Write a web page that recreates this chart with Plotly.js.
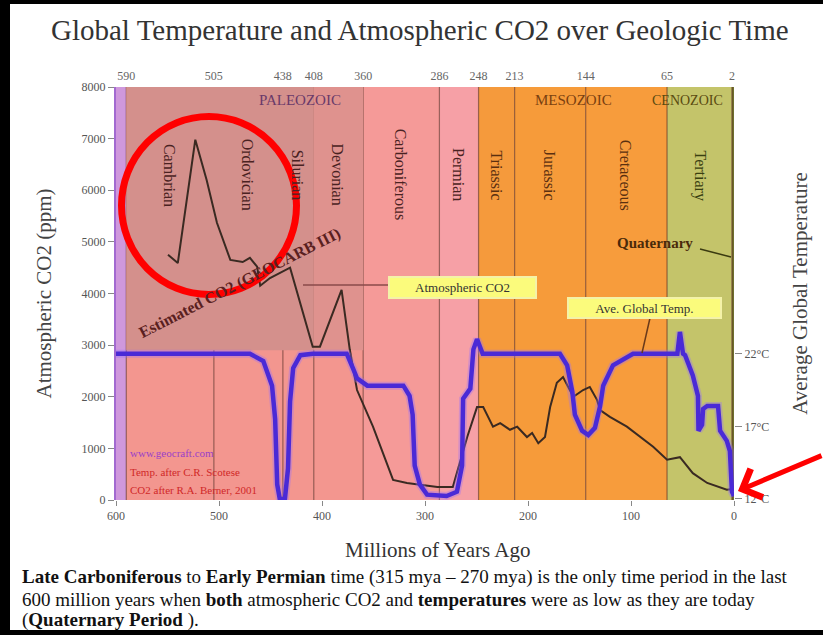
<!DOCTYPE html>
<html><head><meta charset="utf-8">
<script src="https://cdn.plot.ly/plotly-3.0.1.min.js"></script>
<style>html,body{margin:0;padding:0;background:#fff;} #chart{width:823px;height:635px;}</style>
</head><body><div id="chart"></div>
<script>
// ---- data ----
const boundaryAges   = [590, 505, 438, 408, 360, 286, 248, 213, 144, 65, 2];
const boundaryLabels = ['590','505','438','408','360','286','248','213','144','65','2'];
const bandStart = [600, 590, 505, 438, 408, 360, 286, 248, 213, 144, 65, 2];
const bandEnd   = [590, 505, 438, 408, 360, 286, 248, 213, 144, 65, 2, 0];
const periodNames = ['Cambrian','Ordovician','Silurian','Devonian','Carboniferous','Permian','Triassic','Jurassic','Cretaceous','Tertiary'];
const eraNames = ['PALEOZOIC','MESOZOIC','CENOZOIC'];
const xTicks = [600, 500, 400, 300, 200, 100, 0];
const yTicks = [0,1000,2000,3000,4000,5000,6000,7000,8000];
const tempTicks = [12, 17, 22];
const tempTickText = ['12°C','17°C','22°C'];

const co2Age = [549.5,540,523,512,502,489,477,470,463,460,450.5,431,409,402,381,373,366,350.5,331,317.5,288,273,259,249.5,243.5,234,227,217.5,210.5,201,196,190,183.5,178.5,172,166,156,146.5,140,133,130,120.5,104,91,78.5,65,52.5,40,26,7,3];
const co2Ppm = [4750,4590,6980,6200,5370,4650,4610,4690,4520,4150,4300,4500,2970,2970,4070,2910,2130,1420,390,330,250,250,1220,1800,1800,1420,1490,1360,1420,1220,1300,1100,1220,1800,2270,2380,2000,2130,2190,1940,1740,1610,1420,1220,1030,780,830,520,330,200,210];

const tempAge = [600,470,457,448.5,445.5,443.5,441,436,433,431,428,421,409,376,370,366,356,321,315,312,310,305,298,279,269,264,263,256,253,249.5,244,169,162,157,154.5,147.5,141.5,135,130,127,117.5,98,55,52.5,49.5,47.5,40,35,34.5,31,30,26,15.5,13.5,7,4,2,0];
const tempC   = [22,22,21.5,19.8,17.5,13,12,12,14.1,18.7,21,21.9,22,22,21,20.3,19.8,19.8,19.1,17.8,14.3,13,12.3,12.2,12.5,14.3,18.9,19.6,22.3,23,22,22,21.2,19.4,17.8,16.7,16.4,16.9,18.4,19.8,21.2,22,22,23.5,22,21.9,20.5,19.1,16.7,17.1,18.2,18.4,18.4,16.7,16,15.3,12.5,12.2];

// ---- styles ----
const bandColors = ['#cf98dc','#f3968f','#f3968f','#f3968f','#f3968f','#f59a98','#f6a0a6','#f59a3c','#f69b3a','#f79c3c','#c4c46a','#6f6f2e'];
const L=116, R=734, T=87, B=500, W=823, H=635;
const px = x => (x-L)/(R-L);
const py = y => (B-y)/(B-T);
const SERIF = 'Liberation Serif, Times New Roman, serif';

const shapes = [];
bandStart.forEach((s,i)=>{
  shapes.push({type:'rect',xref:'x',yref:'paper',x0:s,x1:bandEnd[i],y0:0,y1:1,fillcolor:bandColors[i],line:{width:0},layer:'below'});
});
// darker upper part of early Paleozoic
shapes.push({type:'rect',xref:'x',yref:'y',x0:bandStart[1],x1:bandEnd[3],y0:2900,y1:8000,fillcolor:'#d4908c',line:{width:0},layer:'below'});
shapes.push({type:'rect',xref:'x',yref:'y',x0:bandStart[4],x1:bandEnd[4],y0:2900,y1:8000,fillcolor:'#df928e',line:{width:0},layer:'below'});
boundaryAges.forEach(a=>{
  shapes.push({type:'line',xref:'x',yref:'paper',x0:a,x1:a,y0:0,y1:1,line:{color:'rgba(90,40,30,0.6)',width:1.2},layer:'below'});
});
// leader lines
shapes.push({type:'line',xref:'paper',yref:'paper',x0:px(303),x1:px(388),y0:py(285),y1:py(285),line:{color:'#8a4a4a',width:1.5}});
shapes.push({type:'line',xref:'paper',yref:'paper',x0:px(650),x1:px(642),y0:py(318),y1:py(353),line:{color:'#6a3a1a',width:1.5}});
shapes.push({type:'line',xref:'paper',yref:'paper',x0:px(700),x1:px(731),y0:py(249),y1:py(257),line:{color:'#3a3a10',width:1.5}});
// red circle
shapes.push({type:'circle',xref:'paper',yref:'paper',x0:px(121.5),x1:px(296.5),y0:py(294.5),y1:py(116.5),line:{color:'#ff0000',width:7}});
// frame
shapes.push({type:'rect',xref:'paper',yref:'paper',x0:px(0),x1:px(10),y0:py(H),y1:py(0),fillcolor:'#000',line:{width:0}});
shapes.push({type:'rect',xref:'paper',yref:'paper',x0:px(0),x1:px(W),y0:py(4),y1:py(0),fillcolor:'#000',line:{width:0}});
shapes.push({type:'rect',xref:'paper',yref:'paper',x0:px(0),x1:px(W),y0:py(H),y1:py(630),fillcolor:'#000',line:{width:0}});

const ann = [];
function A(o){ ann.push(Object.assign({xanchor:'center',yanchor:'middle',showarrow:false},o)); }
A({xref:'paper',yref:'paper',x:px(420),y:py(30),text:'Global Temperature and Atmospheric CO2 over Geologic Time',font:{family:SERIF,size:29,color:'#333'}});
periodNames.forEach((n,i)=>{
  const mid=(bandStart[i+1]+bandEnd[i+1])/2;
  A({xref:'x',yref:'paper',x:mid,y:py(175),text:n,textangle:90,font:{family:SERIF,size:16,color:i<6?'#4a2222':(i<9?'#5a3010':'#3a4010')}});
});
A({xref:'paper',yref:'paper',x:px(300),y:py(100),text:eraNames[0],font:{family:SERIF,size:15,color:'#6a3a6a'}});
A({xref:'paper',yref:'paper',x:px(573),y:py(100),text:eraNames[1],font:{family:SERIF,size:15,color:'#7a4010'}});
A({xref:'paper',yref:'paper',x:px(687),y:py(100),text:eraNames[2],font:{family:SERIF,size:14,color:'#5a4a10'}});
A({xref:'paper',yref:'paper',x:px(462),y:py(287),text:'Atmospheric CO2',bgcolor:'#fbfb7c',bordercolor:'#f4f2a8',borderwidth:2,width:143,height:17,font:{family:SERIF,size:13,color:'#333'}});
A({xref:'paper',yref:'paper',x:px(644),y:py(308),text:'Ave. Global Temp.',bgcolor:'#fbfb7c',bordercolor:'#f4f2a8',borderwidth:2,width:149,height:16,font:{family:SERIF,size:13,color:'#333'}});
A({xref:'paper',yref:'paper',x:px(655),y:py(243),text:'<b>Quaternary</b>',font:{family:SERIF,size:15,color:'#4a2a0a'}});
A({xref:'paper',yref:'paper',x:px(240),y:py(283),text:'<b>Estimated CO2 (GEOCARB III)</b>',textangle:-27,font:{family:SERIF,size:16,color:'#5a2020'}});
A({xref:'paper',yref:'paper',x:px(128),y:py(453),xanchor:'left',text:'www.geocraft.com',font:{family:SERIF,size:11,color:'#9a40c8'}});
A({xref:'paper',yref:'paper',x:px(128),y:py(472),xanchor:'left',text:'Temp. after C.R. Scotese',font:{family:SERIF,size:11,color:'#d02828'}});
A({xref:'paper',yref:'paper',x:px(128),y:py(490),xanchor:'left',text:'CO2 after R.A. Berner, 2001',font:{family:SERIF,size:11,color:'#d02828'}});
A({xref:'paper',yref:'paper',x:px(438),y:py(550),text:'Millions of Years Ago',font:{family:SERIF,size:21,color:'#333'}});
A({xref:'paper',yref:'paper',x:px(20),y:py(577),xanchor:'left',text:'<b>Late Carboniferous</b> to <b>Early Permian</b> time (315 mya – 270 mya) is the only time period in the last',font:{family:SERIF,size:19,color:'#111'}});
A({xref:'paper',yref:'paper',x:px(20),y:py(599),xanchor:'left',text:'600 million years when <b>both</b> atmospheric CO2 and <b>temperatures</b> were as low as they are today',font:{family:SERIF,size:19,color:'#111'}});
A({xref:'paper',yref:'paper',x:px(20),y:py(620),xanchor:'left',text:'(<b>Quaternary Period</b> ).',font:{family:SERIF,size:19,color:'#111'}});
ann.push({xref:'paper',yref:'paper',x:px(738),y:py(491),ax:85,ay:-36,text:'',showarrow:true,arrowhead:4,arrowsize:1.2,arrowwidth:5,arrowcolor:'#ff0000'});

const traces = [
  {x:[600,0],y:[0,0],xaxis:'x2',yaxis:'y',mode:'none',hoverinfo:'skip',showlegend:false},
  {x:co2Age,y:co2Ppm,xaxis:'x',yaxis:'y',mode:'lines',line:{color:'#3a2a22',width:2},showlegend:false},
  {x:tempAge,y:tempC,xaxis:'x',yaxis:'y2',mode:'lines',line:{color:'rgba(150,110,255,0.35)',width:8},showlegend:false,hoverinfo:'skip'},
  {x:tempAge,y:tempC,xaxis:'x',yaxis:'y2',mode:'lines',line:{color:'#4a2ad6',width:4.5},showlegend:false}
];

const tickFont = {family:SERIF,size:12,color:'#555'};
const layout = {
  width:W,height:H,margin:{l:L,r:W-R,t:T,b:H-B},
  paper_bgcolor:'#fff',plot_bgcolor:'#fff',showlegend:false,
  xaxis:{range:[600,0],tickvals:xTicks,ticks:'outside',ticklen:5,tickcolor:'#888',tickfont:tickFont,showgrid:false,zeroline:false,showline:false},
  xaxis2:{range:[600,0],overlaying:'x',side:'top',anchor:'y',tickvals:boundaryAges,ticktext:boundaryLabels,ticks:'',ticklabelstandoff:4,tickfont:{family:SERIF,size:12,color:'#666'},showgrid:false,zeroline:false,showline:false},
  yaxis:{range:[0,8000],tickvals:yTicks,ticks:'outside',ticklen:6,tickcolor:'#888',tickfont:tickFont,showgrid:false,zeroline:false,showline:true,linecolor:'#a26ad0',linewidth:2,
    title:{text:'Atmospheric CO2 (ppm)',font:{family:SERIF,size:21,color:'#444'},standoff:24}},
  yaxis2:{range:[11.93,40.36],overlaying:'y',side:'right',tickvals:tempTicks,ticktext:tempTickText,ticks:'outside',ticklen:7,tickcolor:'#888',tickfont:tickFont,showgrid:false,zeroline:false,showline:false,
    title:{text:'Average Global Temperature',font:{family:SERIF,size:21,color:'#444'},standoff:24}},
  shapes:shapes,annotations:ann
};
Plotly.newPlot('chart',traces,layout,{displayModeBar:false,staticPlot:true});
</script></body></html>
